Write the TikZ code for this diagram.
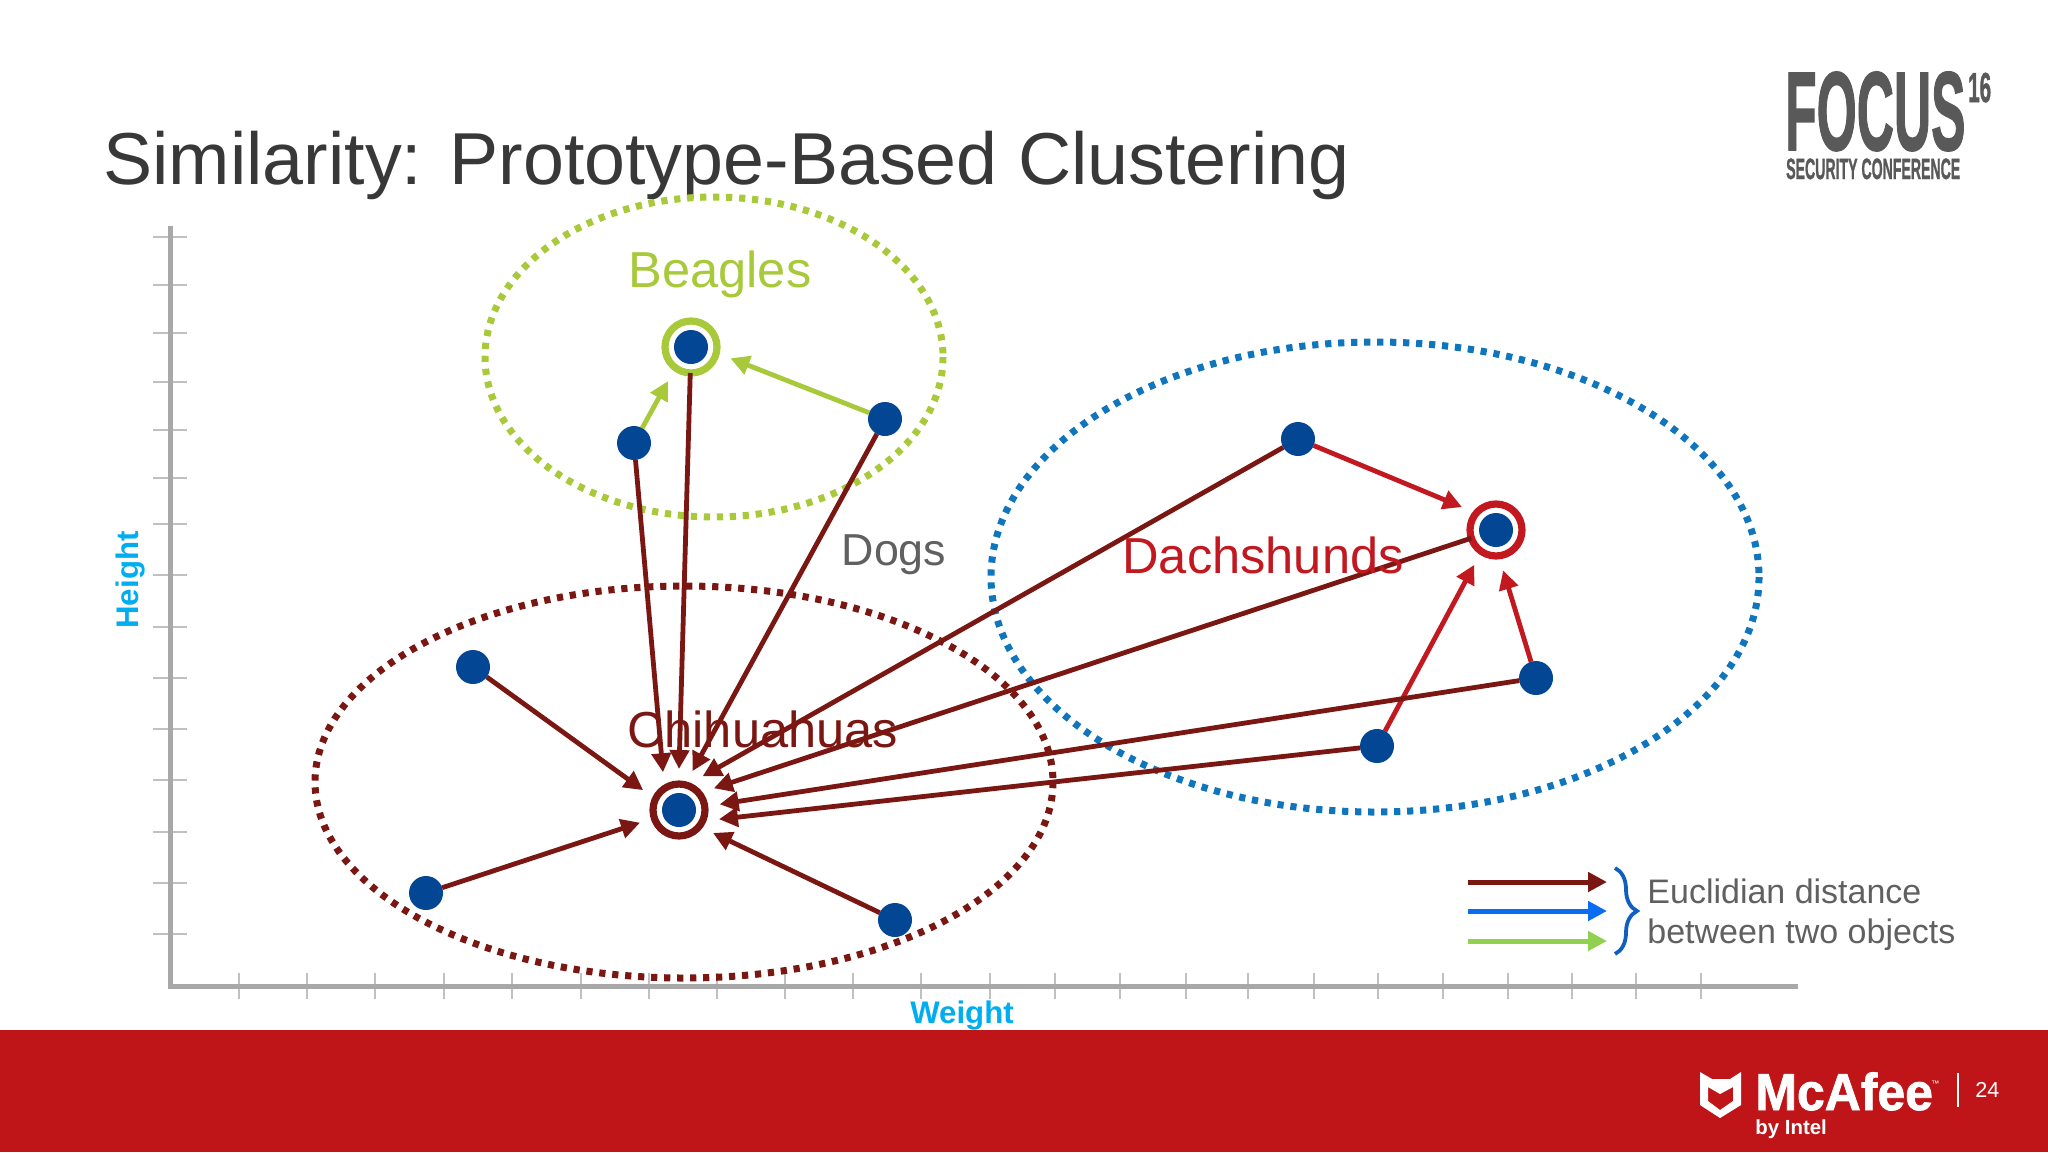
\documentclass[tikz,border=0pt]{standalone}
\usepackage{fontspec}
\setmainfont{Liberation Sans}
\newfontfamily\logofont[BoldFeatures={FakeBold=1.5}]{Liberation Sans}
\usetikzlibrary{arrows.meta, decorations.pathreplacing}
\definecolor{chred}{HTML}{7A1712}
\definecolor{dared}{HTML}{C1191F}
\definecolor{begreen}{HTML}{A8C93A}
\definecolor{dogblue}{HTML}{0F75BD}
\definecolor{dotblue}{HTML}{034693}
\definecolor{legblue}{HTML}{0A6CF0}
\definecolor{leggreen}{HTML}{92D050}
\definecolor{braceblue}{HTML}{0F5FC0}
\definecolor{axisgray}{HTML}{A8A8A8}
\definecolor{tickgray}{HTML}{C0C0C0}
\definecolor{bandred}{HTML}{C01518}
\definecolor{textgray}{HTML}{606060}
\definecolor{labelcyan}{HTML}{00AEEF}
\tikzset{
    axis/.style={line width=2.5pt, draw=axisgray},
    tick/.style={line width=1pt, draw=tickgray},
    cluster/.style={line width=3.5pt, dash pattern=on 3.1pt off 3.4pt, draw=#1},
    blob/.style={circle, fill=dotblue, inner sep=0pt, outer sep=0pt, minimum size=17pt},
    proto/.style={circle, draw=#1, fill=white, line width=3.6pt, inner sep=0pt, outer sep=7.5pt, minimum size=26pt},
    link/.style={-{Triangle[length=9.5pt,width=9.5pt]}, line width=2.4pt, draw=#1},
    fromring/.style={shorten <=-7.5pt},
    bigtext/.style={inner sep=0pt, text=#1, font=\fontsize{25.3}{30}\selectfont},
    boldtext/.style={inner sep=0pt, text=labelcyan, font=\fontsize{15.6}{18}\selectfont\bfseries}
}

\begin{document}
\begin{tikzpicture}[x=0.5pt, y=-0.5pt]
    \useasboundingbox (0,0) rectangle (2048,1152);
    % Footer band
    \fill[bandred] (0,1030) rectangle (2048,1152);
    % Title
    \node[anchor=base west, inner sep=0pt, text=black!78, font=\fontsize{36.8}{44}\selectfont] (title) at (103,184) {Similarity: Prototype-Based Clustering};
    % Axes
    \coordinate (O) at (170,986);
    \coordinate (yTop) at (170,226);
    \coordinate (xEnd) at (1798,986);
    \foreach \ty in {237,285,333,382,430,478,524,575,627,678,729,780,832,883,934}
        \draw[tick] (153,\ty) -- (187,\ty);
    \foreach \tx in {239,307,375,444,512,581,649,717,785,853,921,990,1055,1120,1186,1248,1314,1378,1443,1508,1572,1636,1701}
        \draw[tick] (\tx,973) -- (\tx,999);
    \draw[axis] (yTop) -- (O) -- (xEnd);
    \node[boldtext, rotate=90] (heightLabel) at (130,580) {Height};
    \node[boldtext] (weightLabel) at (962,1015) {Weight};
    % Clusters
    \draw[cluster=begreen] (714,357) ellipse [x radius=229, y radius=160];
    \draw[cluster=chred] (684,782) ellipse [x radius=369, y radius=196];
    \draw[cluster=dogblue] (1375,577) ellipse [x radius=384, y radius=235];
    % Prototypes
    \node[proto=begreen] (protoB) at (691,347) {};
    \node[proto=chred] (protoC) at (679,810) {};
    \node[proto=dared] (protoD) at (1496,530) {};
    \node[blob] (coreB) at (protoB) {};
    \node[blob] (coreC) at (protoC) {};
    \node[blob] (coreD) at (protoD) {};
    % Objects
    \node[blob] (b1) at (634,443) {};
    \node[blob] (b2) at (885,419) {};
    \node[blob] (c1) at (473,667) {};
    \node[blob] (c2) at (426,893) {};
    \node[blob] (c3) at (895,920) {};
    \node[blob] (d1) at (1298,439) {};
    \node[blob] (d2) at (1536,678) {};
    \node[blob] (d3) at (1377,746) {};
    % Distances to own prototype
    \draw[link=begreen] (b1) -- (protoB.236);
    \draw[link=begreen] (b2) -- (protoB.-16);
    \draw[link=chred] (c1) -- (protoC.151);
    \draw[link=chred] (c2) -- (protoC.198);
    \draw[link=chred] (c3) -- (protoC.-34);
    \draw[link=dared] (d1) -- (protoD.146);
    \draw[link=dared] (d3) -- (protoD.238);
    \draw[link=dared] (d2) -- (protoD.280);
    % Distances to the chihuahua prototype
    \draw[link=chred] (b1) -- (protoC.113);
    \draw[link=chred, fromring] (protoB) -- (protoC.90);
    \draw[link=chred] (b2) -- (protoC.71);
    \draw[link=chred] (d1) -- (protoC.55);
    \draw[link=chred, fromring] (protoD) -- (protoC.32);
    \draw[link=chred] (d2) -- (protoC.8);
    \draw[link=chred] (d3) -- (protoC.-13);
    % Cluster names
    \node[bigtext=begreen] (beagles) at (720,274) {Beagles};
    \node[bigtext=chred] (chihuahuas) at (763,729) {Chihuahuas};
    \node[bigtext=dared] (dachshunds) at (1263,555) {Dachshunds};
    \node[inner sep=0pt, text=textgray, font=\fontsize{22.4}{26}\selectfont] (dogs) at (894,555) {Dogs};
    % Legend
    \coordinate (legA) at (1468,882);
    \coordinate (legB) at (1468,911);
    \coordinate (legC) at (1468,941);
    \coordinate (legAend) at (1607,882);
    \coordinate (legBend) at (1607,911);
    \coordinate (legCend) at (1607,941);
    \draw[link=chred, line width=2.5pt] (legA) -- (legAend);
    \draw[link=legblue, line width=2.5pt] (legB) -- (legBend);
    \draw[link=leggreen, line width=2.5pt] (legC) -- (legCend);
    \draw[line width=1.9pt, draw=braceblue, decorate, decoration={brace, amplitude=11pt}] (1615,868) -- (1615,954);
    \node[anchor=west, align=left, inner sep=0pt, text=textgray, font=\fontsize{17}{20}\selectfont] (legText) at (1647,915) {Euclidian distance\\between two objects};
    % Focus logo
    \node[anchor=base west, inner sep=0pt, xscale=0.46, text=black!65, font=\fontsize{56}{60}\logofont\bfseries] (focus) at (1785,150) {FOCUS};
    \node[anchor=base west, inner sep=0pt, xscale=0.49, text=black!65, font=\fontsize{21}{24}\logofont\bfseries] (focusNum) at (1968,102) {16};
    \node[anchor=base west, inner sep=0pt, xscale=0.48, text=black!65, font=\fontsize{14.7}{16}\logofont\bfseries] (focusSub) at (1786,179) {SECURITY CONFERENCE};
    % McAfee logo
    \fill[white, even odd rule] (1700,1072) -- (1712,1079) -- (1730,1079) -- (1741,1072) -- (1741,1105) -- (1720,1118) -- (1700,1105) -- cycle
        (1708,1087) -- (1720,1094) -- (1733,1087) -- (1733,1101) -- (1720,1110) -- (1708,1101) -- cycle;
    \node[anchor=base west, inner sep=0pt, xscale=0.96, text=white, font=\fontsize{26}{30}\logofont\bfseries] (mcafee) at (1755,1110) {McAfee};
    \node[anchor=base west, inner sep=0pt, text=white, font=\fontsize{4}{5}\selectfont] (tmark) at (1931,1086) {™};
    \node[anchor=base west, inner sep=0pt, text=white, font=\fontsize{10.2}{12}\selectfont\bfseries] (byintel) at (1755,1134) {by Intel};
    \coordinate (barTop) at (1958,1073);
    \coordinate (barEnd) at (1958,1107);
    \draw[white, line width=0.8pt] (barTop) -- (barEnd);
    \node[anchor=west, inner sep=0pt, text=white, font=\fontsize{10.8}{12}\selectfont] (pageNum) at (1975,1090) {24};
\end{tikzpicture}
\end{document}
